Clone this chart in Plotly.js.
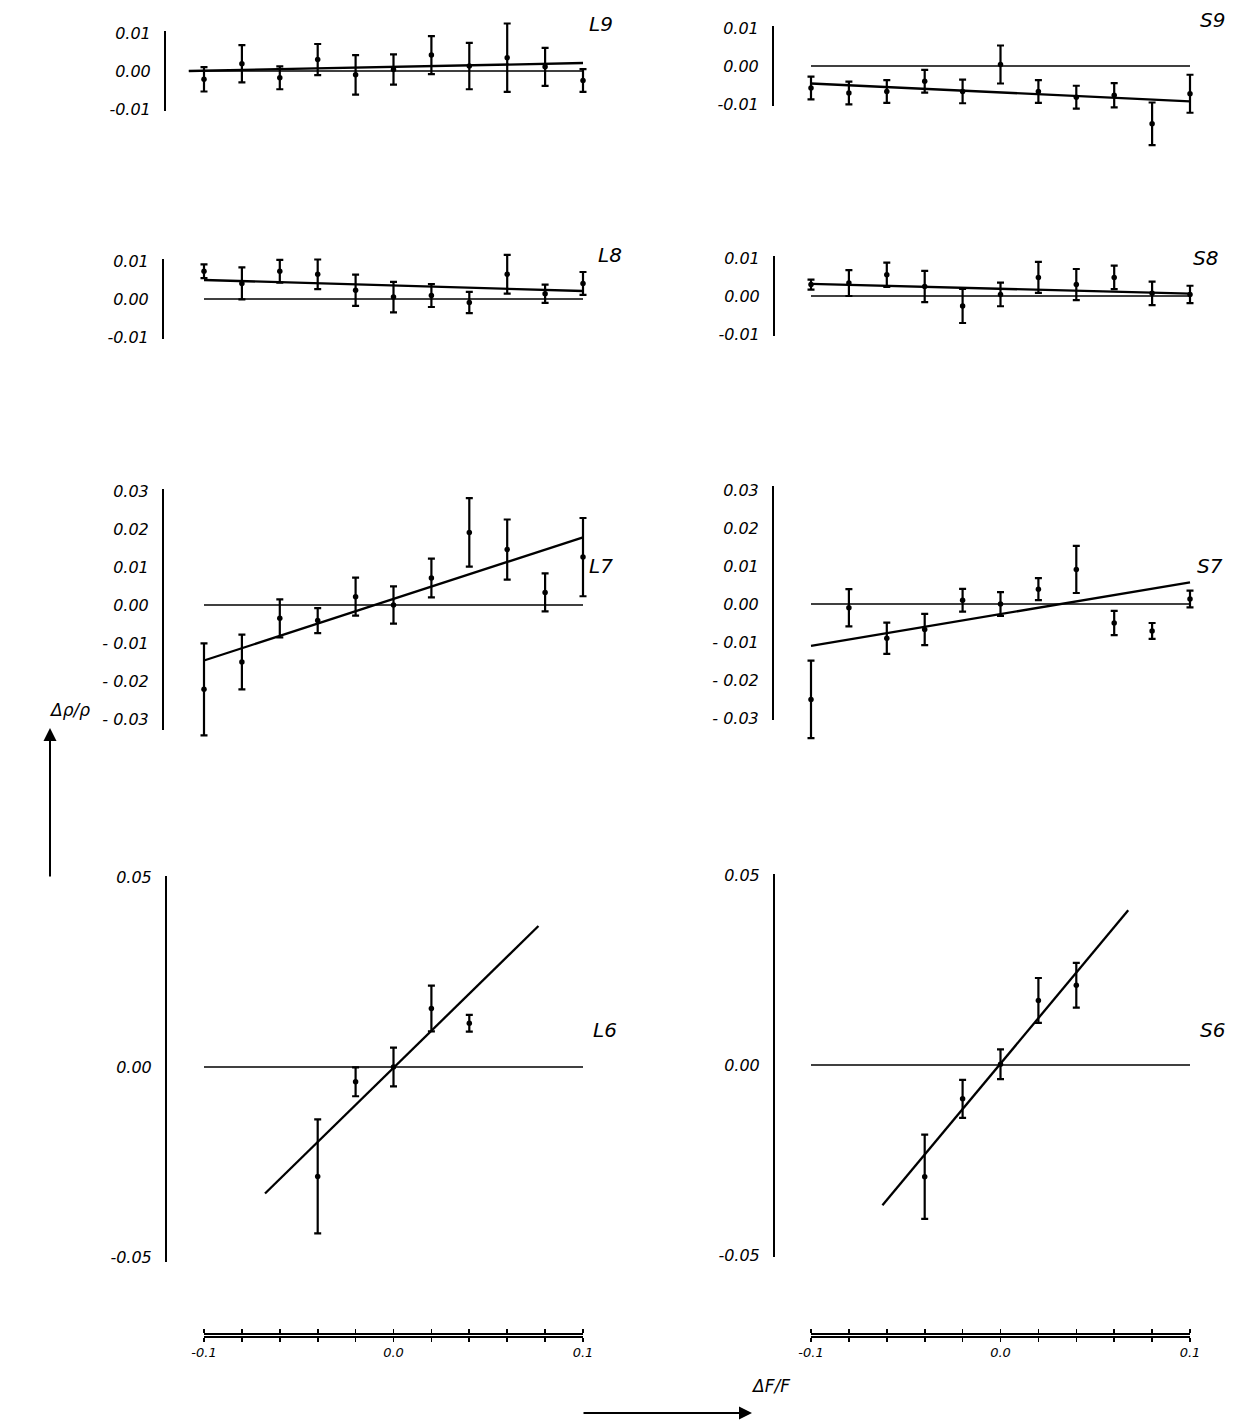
<!DOCTYPE html>
<html><head><meta charset="utf-8">
<script src="https://cdn.plot.ly/plotly-3.0.1.min.js"></script>
<style>html,body{margin:0;padding:0;background:#fff}#chart{width:1237px;height:1423px}</style>
</head><body><div id="chart"></div>
<script>
// ---------------- DATA ----------------
const xFull  = [-0.1,-0.08,-0.06,-0.04,-0.02,0,0.02,0.04,0.06,0.08,0.1];
const xShort = [-0.04,-0.02,0,0.02,0.04];

const L9_y   = [-0.0022,0.0019,-0.0018,0.0030,-0.0010,0.0004,0.0042,0.0013,0.0035,0.0011,-0.0025];
const L9_err = [0.0032,0.0049,0.0030,0.0041,0.0052,0.0040,0.0050,0.0061,0.0090,0.0050,0.0030];
const L9_fitX = [-0.108,0.1], L9_fitY = [0.0000,0.0021];
const L9_refX = [-0.108,0.1];

const S9_y   = [-0.0058,-0.0071,-0.0067,-0.0040,-0.0067,0.0004,-0.0067,-0.0082,-0.0077,-0.0152,-0.0073];
const S9_err = [0.0030,0.0030,0.0030,0.0030,0.0031,0.0050,0.0030,0.0030,0.0032,0.0056,0.0050];
const S9_fitX = [-0.1,0.1], S9_fitY = [-0.0046,-0.0093];

const L8_y   = [0.0073,0.0041,0.0073,0.0065,0.0023,0.0005,0.0009,-0.0009,0.0065,0.0014,0.0041];
const L8_err = [0.0018,0.0042,0.0030,0.0039,0.0041,0.0040,0.0030,0.0028,0.0051,0.0024,0.0030];
const L8_fitX = [-0.1,0.1], L8_fitY = [0.0050,0.0021];

const S8_y   = [0.0030,0.0034,0.0056,0.0025,-0.0026,0.0004,0.0049,0.0030,0.0049,0.0007,0.0004];
const S8_err = [0.0013,0.0034,0.0032,0.0041,0.0045,0.0031,0.0041,0.0041,0.0031,0.0031,0.0023];
const S8_fitX = [-0.1,0.1], S8_fitY = [0.0032,0.0006];

const L7_y   = [-0.0222,-0.0150,-0.0035,-0.0041,0.0022,0.0000,0.0071,0.0191,0.0146,0.0033,0.0126];
const L7_err = [0.0121,0.0072,0.0050,0.0033,0.0050,0.0049,0.0051,0.0090,0.0079,0.0050,0.0103];
const L7_fitX = [-0.1,0.1], L7_fitY = [-0.0146,0.0178];

const S7_y   = [-0.0251,-0.0010,-0.0090,-0.0067,0.0010,0.0000,0.0039,0.0091,-0.0050,-0.0071,0.0013];
const S7_err = [0.0102,0.0049,0.0041,0.0041,0.0030,0.0031,0.0029,0.0062,0.0032,0.0021,0.0022];
const S7_fitX = [-0.1,0.1], S7_fitY = [-0.0110,0.0057];

const L6_y   = [-0.0288,-0.0039,0.0000,0.0154,0.0115];
const L6_err = [0.0150,0.0038,0.0051,0.0060,0.0022];
const L6_fitX = [-0.0678,0.0765], L6_fitY = [-0.0333,0.0371];

const S6_y   = [-0.0294,-0.0089,0.0002,0.0170,0.0210];
const S6_err = [0.0111,0.0050,0.0039,0.0059,0.0059];
const S6_fitX = [-0.0623,0.0674], S6_fitY = [-0.0369,0.0407];

const refX = [-0.1,0.1];
const refY = [0,0];

const ticksSmall = [-0.01,0,0.01];
const labelsSmall = ['-0.01','0.00','0.01'];
const ticksMid = [-0.03,-0.02,-0.01,0,0.01,0.02,0.03];
const labelsMid = ['- 0.03','- 0.02','- 0.01','0.00','0.01','0.02','0.03'];
const ticksBig = [-0.05,0,0.05];
const labelsBig = ['-0.05','0.00','0.05'];
const xTickText = ['-0.1','','','','','0.0','','','','','0.1'];

// ---------------- LAYOUT GEOMETRY ----------------
const W = 1237, H = 1423;
const PXY = 3800;   // pixels per unit of Δρ/ρ
const PXX = 1895;   // pixels per unit of ΔF/F
const cols = {
  L: {zeroX: 393.5, dom: [140, 632], axis: 'x'},
  S: {zeroX: 1000.5, dom: [748, 1235], axis: 'x2'}
};
const FONT = {family: 'DejaVu Sans', size: 14, color: '#000', style: 'italic'};
const TICKFONT = {family: 'DejaVu Sans', size: 16, color: '#000', style: 'italic'};

const panels = [
  {name:'L9', col:'L', zeroY:71,   lineX:165, vis:[-0.0105,0.0105], data:[-0.025,0.015], tv:ticksSmall, tt:labelsSmall, x:xFull, y:L9_y, e:L9_err, fx:L9_fitX, fy:L9_fitY, rx:L9_refX, lab:[601,24]},
  {name:'L8', col:'L', zeroY:299,  lineX:163, vis:[-0.0105,0.0105], data:[-0.025,0.015], tv:ticksSmall, tt:labelsSmall, x:xFull, y:L8_y, e:L8_err, fx:L8_fitX, fy:L8_fitY, rx:refX, lab:[610,255]},
  {name:'L7', col:'L', zeroY:605,  lineX:163, vis:[-0.033,0.0305],  data:[-0.04,0.04],   tv:ticksMid,   tt:labelsMid,   x:xFull, y:L7_y, e:L7_err, fx:L7_fitX, fy:L7_fitY, rx:refX, lab:[601,566]},
  {name:'L6', col:'L', zeroY:1067, lineX:166, vis:[-0.0513,0.0502], data:[-0.06,0.06],   tv:ticksBig,   tt:labelsBig,   x:xShort, y:L6_y, e:L6_err, fx:L6_fitX, fy:L6_fitY, rx:refX, lab:[605,1030]},
  {name:'S9', col:'S', zeroY:66,   lineX:773, vis:[-0.0105,0.0105], data:[-0.025,0.015], tv:ticksSmall, tt:labelsSmall, x:xFull, y:S9_y, e:S9_err, fx:S9_fitX, fy:S9_fitY, rx:refX, lab:[1212,20]},
  {name:'S8', col:'S', zeroY:296,  lineX:774, vis:[-0.0105,0.0105], data:[-0.025,0.015], tv:ticksSmall, tt:labelsSmall, x:xFull, y:S8_y, e:S8_err, fx:S8_fitX, fy:S8_fitY, rx:refX, lab:[1205,258]},
  {name:'S7', col:'S', zeroY:604,  lineX:773, vis:[-0.0305,0.031],  data:[-0.04,0.04],   tv:ticksMid,   tt:labelsMid,   x:xFull, y:S7_y, e:S7_err, fx:S7_fitX, fy:S7_fitY, rx:refX, lab:[1210,566]},
  {name:'S6', col:'S', zeroY:1065, lineX:774, vis:[-0.0505,0.0502], data:[-0.06,0.06],   tv:ticksBig,   tt:labelsBig,   x:xShort, y:S6_y, e:S6_err, fx:S6_fitX, fy:S6_fitY, rx:refX, lab:[1212,1030]}
];

function yDom(zeroY, r){
  return [1 - (zeroY - r[0]*PXY)/H, 1 - (zeroY - r[1]*PXY)/H];
}

const layout = {
  width: W, height: H,
  margin: {l:0, r:0, t:0, b:0},
  paper_bgcolor: '#fff', plot_bgcolor: 'rgba(0,0,0,0)',
  showlegend: false,
  annotations: [],
  font: FONT
};

for (const k of ['L','S']) {
  const c = cols[k];
  const name = c.axis === 'x' ? 'xaxis' : 'xaxis2';
  layout[name] = {
    domain: [c.dom[0]/W, c.dom[1]/W],
    range: [(c.dom[0]-c.zeroX)/PXX, (c.dom[1]-c.zeroX)/PXX],
    visible: false, fixedrange: true,
    anchor: k === 'L' ? 'y' : 'y5'
  };
}

const traces = [];
panels.forEach((p, i) => {
  const n = i + 1;
  const v = i + 9;
  const c = cols[p.col];
  const yd = 'y' + (n === 1 ? '' : n);
  layout['yaxis' + (n === 1 ? '' : n)] = {
    domain: yDom(p.zeroY, p.data), range: p.data,
    visible: false, fixedrange: true, anchor: c.axis
  };
  layout['yaxis' + v] = {
    domain: yDom(p.zeroY, p.vis), range: p.vis,
    anchor: 'free', position: p.lineX / W, side: 'left',
    showline: true, linewidth: 2, linecolor: '#000',
    ticks: '', tickmode: 'array', tickvals: p.tv, ticktext: p.tt,
    tickfont: TICKFONT,
    ticklabelstandoff: 10,
    showgrid: false, zeroline: false, fixedrange: true
  };
  traces.push({type:'scatter', x:[], y:[], xaxis:c.axis, yaxis:'y'+v, hoverinfo:'skip'});
  traces.push({type:'scatter', mode:'lines', x:p.rx, y:refY, xaxis:c.axis, yaxis:yd,
    line:{color:'#000', width:1.6}, hoverinfo:'skip'});
  traces.push({type:'scatter', mode:'lines', x:p.fx, y:p.fy, xaxis:c.axis, yaxis:yd,
    line:{color:'#000', width:2.3}, hoverinfo:'skip'});
  traces.push({type:'scatter', mode:'markers', x:p.x, y:p.y, xaxis:c.axis, yaxis:yd,
    marker:{color:'#000', size:5.5},
    error_y:{type:'data', array:p.e, visible:true, color:'#000', thickness:2.2, width:3.5}});
  layout.annotations.push({
    x: p.lab[0]/W, y: 1 - p.lab[1]/H, xref:'paper', yref:'paper',
    text: p.name, showarrow:false, xanchor:'center', yanchor:'middle',
    font:{family:'DejaVu Sans', size:20, color:'#000', style:'italic'}
  });
});

const bottomY = 1336;
layout.yaxis17 = {domain:[1-bottomY/H, 1-(bottomY-1.2)/H], range:[0,1], visible:false, anchor:'x3', fixedrange:true};
const bottomAxis = (d0, d1) => ({
  domain:[d0/W, d1/W], range:[-0.1,0.1], anchor:'y17',
  showline:true, linewidth:1.8, linecolor:'#000', mirror:'ticks',
  ticks:'outside', ticklen:4, tickwidth:1.6, tickcolor:'#000',
  tickmode:'array', tickvals:xFull, ticktext:xTickText,
  tickfont:{family:'DejaVu Sans', size:13, color:'#000', style:'italic'},
  showgrid:false, zeroline:false, fixedrange:true
});
layout.xaxis3 = bottomAxis(204, 583);
layout.xaxis4 = bottomAxis(811, 1190);
traces.push({type:'scatter', x:[], y:[], xaxis:'x3', yaxis:'y17', hoverinfo:'skip'});
traces.push({type:'scatter', x:[], y:[], xaxis:'x4', yaxis:'y17', hoverinfo:'skip'});

layout.annotations.push(
  {x:50/W, y:1-728/H, xref:'paper', yref:'paper', text:'', showarrow:true,
   ax:0, ay:150, arrowhead:2, arrowsize:1.3, arrowwidth:2, arrowcolor:'#000'},
  {x:47/W, y:1-710/H, xref:'paper', yref:'paper', text:'Δρ/ρ', showarrow:false,
   font:{family:'DejaVu Sans', size:17, color:'#000', style:'italic'}},
  {x:752/W, y:1-1413/H, xref:'paper', yref:'paper', text:'', showarrow:true,
   ax:-170, ay:0, arrowhead:2, arrowsize:1.3, arrowwidth:2, arrowcolor:'#000'},
  {x:770/W, y:1-1398/H, xref:'paper', yref:'paper', text:'ΔF/F', showarrow:false,
   font:{family:'DejaVu Sans', size:17, color:'#000', style:'italic'}}
);

Plotly.newPlot('chart', traces, layout, {displayModeBar:false, staticPlot:true});
</script>
</body></html>
